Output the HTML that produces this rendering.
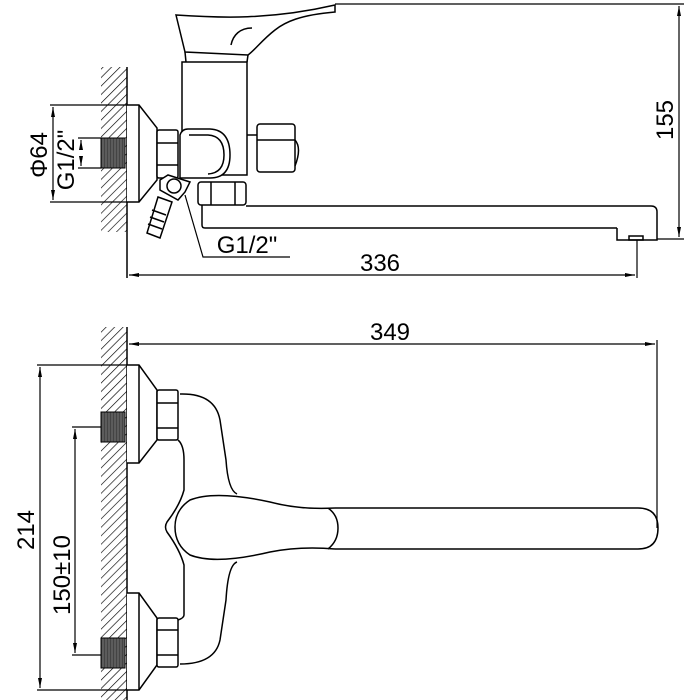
<!DOCTYPE html>
<html><head><style>body{margin:0;background:#fff}svg{display:block}</style></head><body>
<svg width="700" height="700" viewBox="0 0 700 700" xmlns="http://www.w3.org/2000/svg" font-family="Liberation Sans, sans-serif">
<defs>
<pattern id="h" width="6" height="6" patternUnits="userSpaceOnUse" patternTransform="rotate(45)"><line x1="0" y1="0" x2="0" y2="6" stroke="#000" stroke-width="1.3"/></pattern>
<pattern id="t" width="3" height="10" patternUnits="userSpaceOnUse"><rect width="3" height="10" fill="#444"/><line x1="1" y1="0" x2="1" y2="10" stroke="#888" stroke-width="0.7"/></pattern>
<marker id="a" markerWidth="10" markerHeight="6" refX="10" refY="3" orient="auto-start-reverse" markerUnits="userSpaceOnUse"><path d="M0,1 L10,3 L0,5z" fill="#000"/></marker>
</defs>
<g fill="none" stroke="#000" stroke-width="1.5">
<!-- TOP VIEW wall -->
<rect x="101" y="67" width="26" height="165" fill="url(#h)" stroke="none"/>
<line x1="127" y1="67" x2="127" y2="278"/>
<rect x="101" y="138" width="24" height="30" fill="url(#t)" stroke="#000" stroke-width="1"/>
<!-- escutcheon -->
<path d="M127,105 H139 L157,128 V180 L139,202 H127" fill="#fff"/>
<line x1="139" y1="105" x2="139" y2="202"/>
<rect x="157" y="130" width="21" height="48" rx="2" fill="#fff"/>
<line x1="157" y1="143" x2="178" y2="143"/><line x1="157" y1="165" x2="178" y2="165"/>
<!-- body -->
<path d="M182,62 H247 V175 H182 Z" fill="#fff"/>
<path d="M176,15 C220,18 270,20 335,5 L335,12 C300,15 285,22 275,30 C262,40 255,50 248,55 L185,52 Z" fill="#fff"/>
<path d="M231,45 C233,35 240,28 252,28"/>
<line x1="185" y1="52" x2="186" y2="62"/><line x1="248" y1="55" x2="247" y2="62"/>
<path d="M180,178 V135 Q182,129 188,129 H210 Q230,130 230,155 Q230,178 210,178 Z" fill="#fff"/>
<path d="M189,135 H208 Q224,136 224,155 Q224,173 208,174" />
<line x1="247" y1="135" x2="257" y2="135"/>
<rect x="257" y="124" width="38" height="48" rx="3" fill="#fff"/>
<line x1="257" y1="140" x2="295" y2="140"/>
<path d="M295,140 Q302,148 295,166"/>
<!-- lower nut + spout -->
<rect x="198" y="182" width="48" height="23" rx="3" fill="#fff"/>
<line x1="211" y1="182" x2="211" y2="205"/><line x1="235" y1="182" x2="235" y2="205"/>
<path d="M202,205 V225 Q202,228 205,228 H617 M617,228 V240 H657 V212 Q657,206 651,206 H246"/>
<rect x="629" y="236" width="14" height="4"/>
<!-- hose connector -->
<path d="M160,180 L168,175 L190,182 L185,192 L178,200 L160,190 Z" fill="#fff"/>
<circle cx="174" cy="186" r="7" fill="#fff"/>
<path d="M158,197 L172,202 L160,238 L147,233 Z" fill="#fff"/>
<line x1="152" y1="210" x2="166" y2="215"/><line x1="150" y1="217" x2="164" y2="222"/><line x1="148" y1="224" x2="162" y2="229"/>
<!-- G1/2 leader -->
<polyline points="185,195 203,257 290,257" stroke-width="1.2"/>
<!-- top dimensions -->
<g stroke-width="1.2">
<line x1="335" y1="4" x2="684" y2="4"/><line x1="657" y1="239" x2="684" y2="239"/>
<line x1="679" y1="6" x2="679" y2="237" marker-start="url(#a)" marker-end="url(#a)"/>
<line x1="637" y1="240" x2="637" y2="278"/>
<line x1="129" y1="275" x2="635" y2="275" marker-start="url(#a)" marker-end="url(#a)"/>
<line x1="50" y1="105" x2="127" y2="105"/><line x1="50" y1="202" x2="127" y2="202"/>
<line x1="53" y1="107" x2="53" y2="200" marker-start="url(#a)" marker-end="url(#a)"/>
<line x1="78" y1="138" x2="101" y2="138"/><line x1="78" y1="168" x2="101" y2="168"/>
<line x1="81" y1="150" x2="81" y2="140" marker-end="url(#a)"/><line x1="81" y1="156" x2="81" y2="166" marker-end="url(#a)"/>
</g>
<!-- BOTTOM VIEW -->
<rect x="101" y="327" width="26" height="373" fill="url(#h)" stroke="none"/>
<line x1="127" y1="327" x2="127" y2="700"/>
<rect x="101" y="412" width="24" height="30" fill="url(#t)" stroke="#000" stroke-width="1"/>
<rect x="101" y="638" width="24" height="30" fill="url(#t)" stroke="#000" stroke-width="1"/>
<path d="M127,365 H139 L157,390 V440 L139,463 H127" fill="#fff"/><line x1="139" y1="365" x2="139" y2="463"/>
<path d="M127,593 H139 L157,618 V665 L139,690 H127" fill="#fff"/><line x1="139" y1="593" x2="139" y2="690"/>
<rect x="157" y="390" width="21" height="50" rx="2" fill="#fff"/>
<line x1="157" y1="403" x2="178" y2="403"/><line x1="157" y1="428" x2="178" y2="428"/>
<rect x="157" y="618" width="21" height="49" rx="2" fill="#fff"/>
<line x1="157" y1="630" x2="178" y2="630"/><line x1="157" y1="655" x2="178" y2="655"/>
<!-- body outline -->
<path d="M180,394 Q215,393 220,420 L226,460 Q228,490 237,494"/>
<path d="M237,562 Q228,565 226,600 L220,640 Q215,664 180,664"/>
<path d="M178,440 Q184,445 184,460 V490 Q180,505 167,522 Q164,527 167,532 Q180,550 184,565 V615 Q184,618 178,620"/>
<path d="M335,508 Q300,510 270,502 Q215,490 190,500 Q175,510 175,527 Q175,545 190,555 Q215,565 270,552 Q300,546 335,549"/>
<path d="M328,508 Q338,515 338,528 Q338,541 328,549"/>
<path d="M335,508 H638 Q658,508 658,528 Q658,549 638,549 H335"/>
<!-- bottom dims -->
<g stroke-width="1.2">
<line x1="657" y1="340" x2="657" y2="528"/>
<line x1="129" y1="344" x2="655" y2="344" marker-start="url(#a)" marker-end="url(#a)"/>
<line x1="37" y1="365" x2="127" y2="365"/><line x1="37" y1="690" x2="127" y2="690"/>
<line x1="40" y1="367" x2="40" y2="688" marker-start="url(#a)" marker-end="url(#a)"/>
<line x1="72" y1="427" x2="101" y2="427"/><line x1="72" y1="655" x2="101" y2="655"/>
<line x1="75" y1="429" x2="75" y2="653" marker-start="url(#a)" marker-end="url(#a)"/>
</g>
</g>
<g font-size="24" fill="#000">
<text x="380" y="271" text-anchor="middle">336</text>
<text x="247" y="253" text-anchor="middle">G1/2"</text>
<text x="390" y="340" text-anchor="middle">349</text>
<text transform="translate(673,120) rotate(-90)" text-anchor="middle">155</text>
<text transform="translate(47,155) rotate(-90)" text-anchor="middle">Φ64</text>
<text transform="translate(74,160) rotate(-90)" text-anchor="middle">G1/2"</text>
<text transform="translate(34,530) rotate(-90)" text-anchor="middle">214</text>
<text transform="translate(70,575) rotate(-90)" text-anchor="middle">150±10</text>
</g>
</svg>
</body></html>
